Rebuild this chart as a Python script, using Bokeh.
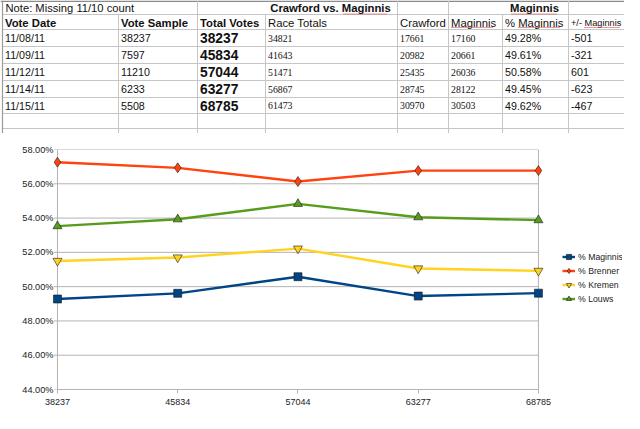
from bokeh.plotting import figure
from bokeh.layouts import column
from bokeh.models import Range1d, FixedTicker, PrintfTickFormatter, Legend, LegendItem
from bokeh.core.properties import value
from bokeh.embed import file_html
from bokeh.resources import INLINE

# ---------------- data ----------------
vote_dates = ["11/08/11", "11/09/11", "11/12/11", "11/14/11", "11/15/11"]
vote_sample = [38237, 7597, 11210, 6233, 5508]
total_votes = [38237, 45834, 57044, 63277, 68785]
race_totals = [34821, 41643, 51471, 56867, 61473]
crawford = [17661, 20982, 25435, 28745, 30970]
maginnis = [17160, 20661, 26036, 28122, 30503]
pct_maginnis_txt = ["49.28%", "49.61%", "50.58%", "49.45%", "49.62%"]
diff_maginnis = [-501, -321, 601, -623, -467]

headers = ["Vote Date", "Vote Sample", "Total Votes", "Race Totals",
           "Crawford", "Maginnis", "% Maginnis", "+/- Maginnis"]
note_text = "Note: Missing 11/10 count"
group1_title = "Crawford vs. Maginnis"
group2_title = "Maginnis"

# chart series (percent)
pct_maginnis = [49.28, 49.61, 50.58, 49.45, 49.62]
pct_brenner = [57.26, 56.93, 56.13, 56.77, 56.77]
pct_kremen = [51.50, 51.70, 52.22, 51.06, 50.92]
pct_louws = [53.53, 53.93, 54.83, 54.05, 53.88]
y_ticks = [44, 46, 48, 50, 52, 54, 56, 58]
series_names = ["% Maginnis", "% Brenner", "% Kremen", "% Louws"]

# ---------------- layout constants ----------------
SANS = value("Liberation Sans")
SERIF = value("Liberation Serif")
col_edges = [2, 118, 197, 265, 397, 448, 502, 568, 638]
row_lines = [14, 29, 46, 63, 80, 97, 113, 128]
GRID = "#c6c6c6"
W = 624
TABLE_H = 133
CHART_H = 280


def no_align(fig):
    if "frame_align" in fig.properties():
        fig.frame_align = False


# ---------------- spreadsheet table ----------------
t = figure(width=W, height=TABLE_H, x_range=Range1d(0, W), y_range=Range1d(TABLE_H, 0),
           output_backend="svg", toolbar_location=None, min_border=0,
           x_axis_location=None, y_axis_location=None, outline_line_color=None,
           background_fill_color="white", border_fill_color="white")
t.grid.visible = False
no_align(t)

t.segment(x0=[col_edges[0]] * len(row_lines), y0=row_lines,
          x1=[W] * len(row_lines), y1=row_lines, line_color=GRID, line_width=1)
t.segment(x0=[0], y0=[0.7], x1=[W], y1=[0.7], line_color="#8a8a8a", line_width=1.5)
top_full = [197, 397, 448, 568, 638]
for xe in col_edges[1:]:
    y_start = 0 if xe in top_full else 14
    t.segment(x0=[xe], y0=[y_start], x1=[xe], y1=[TABLE_H], line_color=GRID, line_width=1)
t.segment(x0=[col_edges[0]], y0=[0], x1=[col_edges[0]], y1=[TABLE_H],
          line_color="#9a9a9a", line_width=1.2)

row_y = [(row_lines[i + 1] + row_lines[i + 2]) / 2 for i in range(5)]


def tx(x, y, texts, font=SANS, size="10.7px", style="normal", align="left"):
    t.text(x=x, y=y, text=texts, text_font=font, text_font_size=size,
           text_font_style=style, text_align=align, text_baseline="middle",
           text_color="#111111")


tx([5], [7.5], [note_text], size="11.2px")
tx([330], [7.5], [group1_title], size="11.3px", style="bold", align="center")
tx([534], [7.5], [group2_title], size="11.3px", style="bold", align="center")

header_bold = [True, True, True, False, False, False, False, False]
header_size = ["11.3px"] * 7 + ["9.2px"]
for i, h in enumerate(headers):
    tx([col_edges[i] + 2.5], [22], [h], size=header_size[i],
       style="bold" if header_bold[i] else "normal")

columns = [
    (vote_dates, SANS, "10.7px", "normal"),
    ([str(v) for v in vote_sample], SANS, "10.7px", "normal"),
    ([str(v) for v in total_votes], SANS, "13.8px", "bold"),
    ([str(v) for v in race_totals], SERIF, "9.8px", "normal"),
    ([str(v) for v in crawford], SERIF, "9.8px", "normal"),
    ([str(v) for v in maginnis], SERIF, "9.8px", "normal"),
    (pct_maginnis_txt, SANS, "10.7px", "normal"),
    ([str(v) for v in diff_maginnis], SANS, "10.7px", "normal"),
]
for i, (vals, font, size, style) in enumerate(columns):
    tx([col_edges[i] + 2.5] * len(vals), row_y, vals, font=font, size=size, style=style)

# spell-check underlines
sq_x0 = [343, 511, 451, 518, 584]
sq_x1 = [387, 557, 493, 560, 620]
sq_y = [13.5, 13.5, 27, 27, 27]
t.segment(x0=sq_x0, y0=sq_y, x1=sq_x1, y1=sq_y, line_color="#e03030",
          line_width=1, line_dash="1 1")

# ---------------- chart ----------------
x_idx = list(range(len(total_votes)))
c = figure(width=W, height=CHART_H, x_range=Range1d(-0.058, 4.699), y_range=Range1d(44, 58),
           output_backend="svg", toolbar_location=None,
           min_border_left=50, min_border_right=2, min_border_top=16, min_border_bottom=24,
           background_fill_color="white", border_fill_color="white", outline_line_color=None)
c.grid.visible = False
no_align(c)

AX = "#b3b3b3"
c.segment(x0=[-0.03] * len(y_ticks), y0=y_ticks, x1=[x_idx[-1]] * len(y_ticks), y1=y_ticks,
          line_color=AX, line_width=1)
c.segment(x0=[x_idx[0], x_idx[-1]], y0=[y_ticks[0]] * 2, x1=[x_idx[0], x_idx[-1]],
          y1=[y_ticks[-1]] * 2, line_color=AX, line_width=1)

c.yaxis.ticker = FixedTicker(ticks=y_ticks)
c.yaxis.formatter = PrintfTickFormatter(format="%.2f%%")
c.yaxis.axis_line_color = None
c.yaxis.major_tick_line_color = None
c.yaxis.major_tick_out = 0
c.yaxis.major_tick_in = 0
c.yaxis.minor_tick_line_color = None
c.yaxis.minor_tick_out = 0
c.yaxis.major_label_standoff = -3
c.yaxis.major_label_text_font = "Liberation Sans"
c.yaxis.major_label_text_font_size = "9.2px"
c.yaxis.major_label_text_color = "#222222"

c.xaxis.ticker = FixedTicker(ticks=x_idx)
c.xaxis.major_label_overrides = {i: str(v) for i, v in zip(x_idx, total_votes)}
c.xaxis.bounds = (x_idx[0], x_idx[-1])
c.xaxis.axis_line_color = AX
c.xaxis.major_tick_line_color = AX
c.xaxis.major_tick_out = 4
c.xaxis.major_tick_in = 0
c.xaxis.minor_tick_line_color = None
c.xaxis.major_label_standoff = 5
c.xaxis.major_label_text_font = "Liberation Sans"
c.xaxis.major_label_text_font_size = "9px"
c.xaxis.major_label_text_color = "#222222"

styles = [
    (pct_maginnis, "#004586", "square", 8),
    (pct_brenner, "#ff420e", "diamond", 10),
    (pct_kremen, "#ffd320", "inverted_triangle", 9),
    (pct_louws, "#579d1c", "triangle", 9),
]
items = []
for name, (vals, col, mk, sz) in zip(series_names, styles):
    ln = c.line(x_idx, vals, line_color=col, line_width=2.4)
    sc = c.scatter(x_idx, vals, marker=mk, size=sz, fill_color=col,
                   line_color="#1a1a1a", line_width=0.6)
    items.append(LegendItem(label=name, renderers=[ln, sc]))

legend = Legend(items=items, location=(512, 84), glyph_width=13, glyph_height=13,
                label_height=13, spacing=1, padding=0, margin=0, label_standoff=3,
                border_line_color=None, background_fill_alpha=0,
                label_text_font="Liberation Sans", label_text_font_size="8.7px",
                label_text_color="#222222")
c.add_layout(legend)

layout = column(t, c, spacing=0)
open("out.html", "w").write(file_html(layout, INLINE))
